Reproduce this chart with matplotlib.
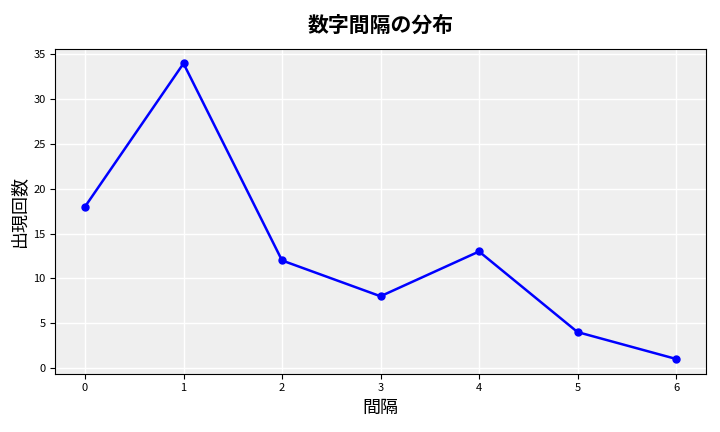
import matplotlib
matplotlib.use("Agg")
import matplotlib.pyplot as plt

plt.rcParams['font.family'] = ['Noto Sans CJK JP', 'DejaVu Sans']

gaps = [0, 1, 2, 3, 4, 5, 6]
counts = [18, 34, 12, 8, 13, 4, 1]

fig, ax = plt.subplots(figsize=(7.2, 4.32), dpi=100)
ax.set_facecolor('#efefef')
ax.plot(gaps, counts, color='blue', marker='o', linewidth=1.8, markersize=5)
ax.grid(True, color='white', linewidth=1)
ax.set_axisbelow(True)
ax.set_title('数字間隔の分布', fontsize=15, fontweight='bold', pad=12)
ax.set_xlabel('間隔', fontsize=13)
ax.set_ylabel('出現回数', fontsize=13)
ax.tick_params(labelsize=8)
ax.set_yticks(range(0, 36, 5))
fig.tight_layout()
fig.subplots_adjust(left=0.077, right=0.98)
fig.savefig('out.png', dpi=100)
